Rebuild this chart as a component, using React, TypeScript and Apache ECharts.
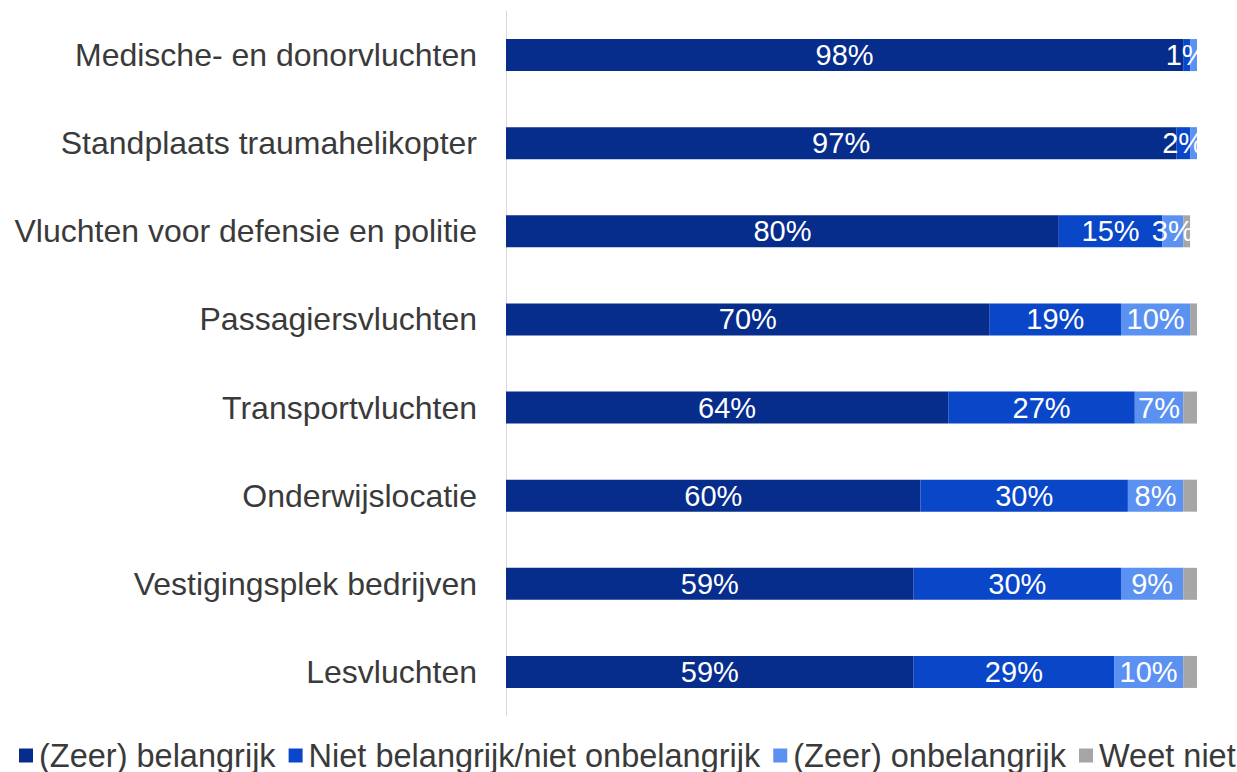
import React, { useEffect, useRef } from "react";
import * as echarts from "echarts";

const categories = [
  "Medische- en donorvluchten",
  "Standplaats traumahelikopter",
  "Vluchten voor defensie en politie",
  "Passagiersvluchten",
  "Transportvluchten",
  "Onderwijslocatie",
  "Vestigingsplek bedrijven",
  "Lesvluchten",
];
const seriesNames = [
  "(Zeer) belangrijk",
  "Niet belangrijk/niet onbelangrijk",
  "(Zeer) onbelangrijk",
  "Weet niet",
];
const belangrijk = [98, 97, 80, 70, 64, 60, 59, 59];
const neutraal = [1, 2, 15, 19, 27, 30, 30, 29];
const onbelangrijk = [1, 1, 3, 10, 7, 8, 9, 10];
const weetNiet = [0, 0, 1, 1, 2, 2, 2, 2];

const colors = ["#062c8c", "#0a46c8", "#5b92f2", "#a6a6a6"];
const FONT = "Liberation Sans, Arial, sans-serif";

export default function App() {
  const ref = useRef<HTMLDivElement>(null);
  useEffect(() => {
    if (!ref.current) return;
    const chart = echarts.init(ref.current, undefined, { renderer: "svg" });
    const values = [belangrijk, neutraal, onbelangrijk, weetNiet];
    const minLabel = [0, 0, 2, 1000];
    chart.setOption({
      animation: false,
      textStyle: { fontFamily: FONT },
      grid: { left: 506, right: 40, top: 11, bottom: 56, containLabel: false },
      xAxis: { type: "value", min: 0, max: 100, show: false },
      yAxis: {
        type: "category",
        data: categories,
        inverse: true,
        axisLine: { show: true, lineStyle: { color: "#d9d9d9", width: 1 } },
        axisTick: { show: false },
        axisLabel: { margin: 29, fontSize: 32, color: "#3a3a3a", fontFamily: FONT },
      },
      legend: {
        top: 739,
        left: 19,
        icon: "rect",
        itemWidth: 14,
        itemHeight: 14,
        itemGap: 13,
        padding: 0,
        textStyle: { fontSize: 32.5, color: "#3a3a3a", fontFamily: FONT, padding: [0, 0, 0, 1] },
        data: seriesNames,
      },
      series: seriesNames.map((name, i) => ({
        name,
        type: "bar",
        stack: "total",
        barWidth: 32,
        itemStyle: { color: colors[i] },
        data: values[i].map((v) => ({
          value: v,
          label: {
            show: v >= minLabel[i] && v > 0,
            position: "inside",
            color: "#ffffff",
            fontSize: 29,
            fontFamily: FONT,
            formatter: "{c}%",
          },
        })),
      })),
    });
    return () => chart.dispose();
  }, []);
  return (
    <div
      ref={ref}
      style={{ position: "absolute", left: 0, top: 0, width: 1237, height: 772 }}
    />
  );
}
